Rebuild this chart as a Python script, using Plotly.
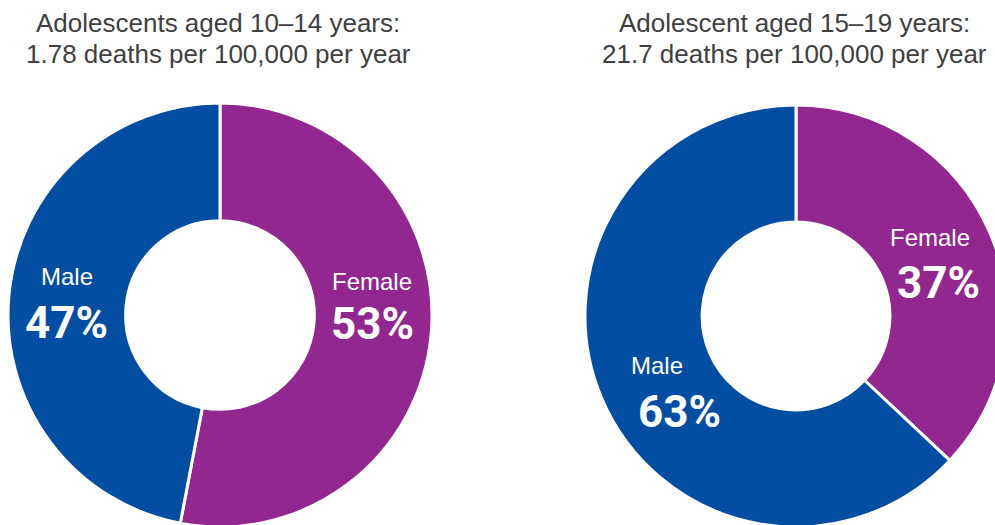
import plotly.graph_objects as go

# Figure size in pixels (the right ring runs slightly past the page edge)
W, H = 1010, 528

sexes = ["Female", "Male"]
share_10_14 = [53, 47]
share_15_19 = [37, 63]
title_lines = [
    ["Adolescents aged 10\u201314 years:", "1.78 deaths per 100,000 per year"],
    ["Adolescent aged 15\u201319 years:", "21.7 deaths per 100,000 per year"],
]
colors = ["#92278F", "#034EA2"]


def px(x):
    return x / W


def py(y):
    return 1 - y / H


def ring(values, cx, cy, r):
    return go.Pie(
        labels=sexes,
        values=values,
        sort=False,
        direction="clockwise",
        rotation=0,
        hole=0.445,
        textinfo="none",
        hoverinfo="label+percent",
        marker=dict(colors=colors, line=dict(color="white", width=3)),
        domain=dict(x=[px(cx - r), px(cx + r)], y=[py(cy + r), py(cy - r)]),
        showlegend=False,
    )


fig = go.Figure()
fig.add_trace(ring(share_10_14, 220, 315, 212))
fig.add_trace(ring(share_15_19, 796, 316, 211))

annotations = []
# chart titles, one annotation per line
for lines, cx in zip(title_lines, [218, 794.5]):
    for text, cy in zip(lines, [23, 54]):
        annotations.append(dict(
            text=text, x=px(cx), y=py(cy), xref="paper", yref="paper",
            xanchor="center", yanchor="middle", showarrow=False,
            font=dict(family="Liberation Sans, Arial, sans-serif", size=26, color="#404040"),
        ))

# slice labels: (values, index, name x, name y, percent x, percent y)
slice_labels = [
    (share_10_14, 1, 67, 276.5, 66, 323),
    (share_10_14, 0, 372, 281, 372, 324),
    (share_15_19, 0, 930, 238, 938, 282.5),
    (share_15_19, 1, 657, 365, 679, 412),
]
for vals, i, nx, ny, vx, vy in slice_labels:
    annotations.append(dict(
        text=sexes[i], x=px(nx), y=py(ny), xref="paper", yref="paper",
        xanchor="center", yanchor="middle", showarrow=False,
        font=dict(family="Liberation Sans, Arial, sans-serif", size=24, color="white"),
    ))
    annotations.append(dict(
        text=f"<b>{vals[i]}%</b>", x=px(vx), y=py(vy), xref="paper", yref="paper",
        xanchor="center", yanchor="middle", showarrow=False,
        font=dict(family="Roboto, sans-serif", size=44, color="white"),
    ))

fig.update_layout(
    width=W, height=H,
    margin=dict(l=0, r=0, t=0, b=0),
    paper_bgcolor="white",
    plot_bgcolor="white",
    annotations=annotations,
)

fig.write_html("out.html")
